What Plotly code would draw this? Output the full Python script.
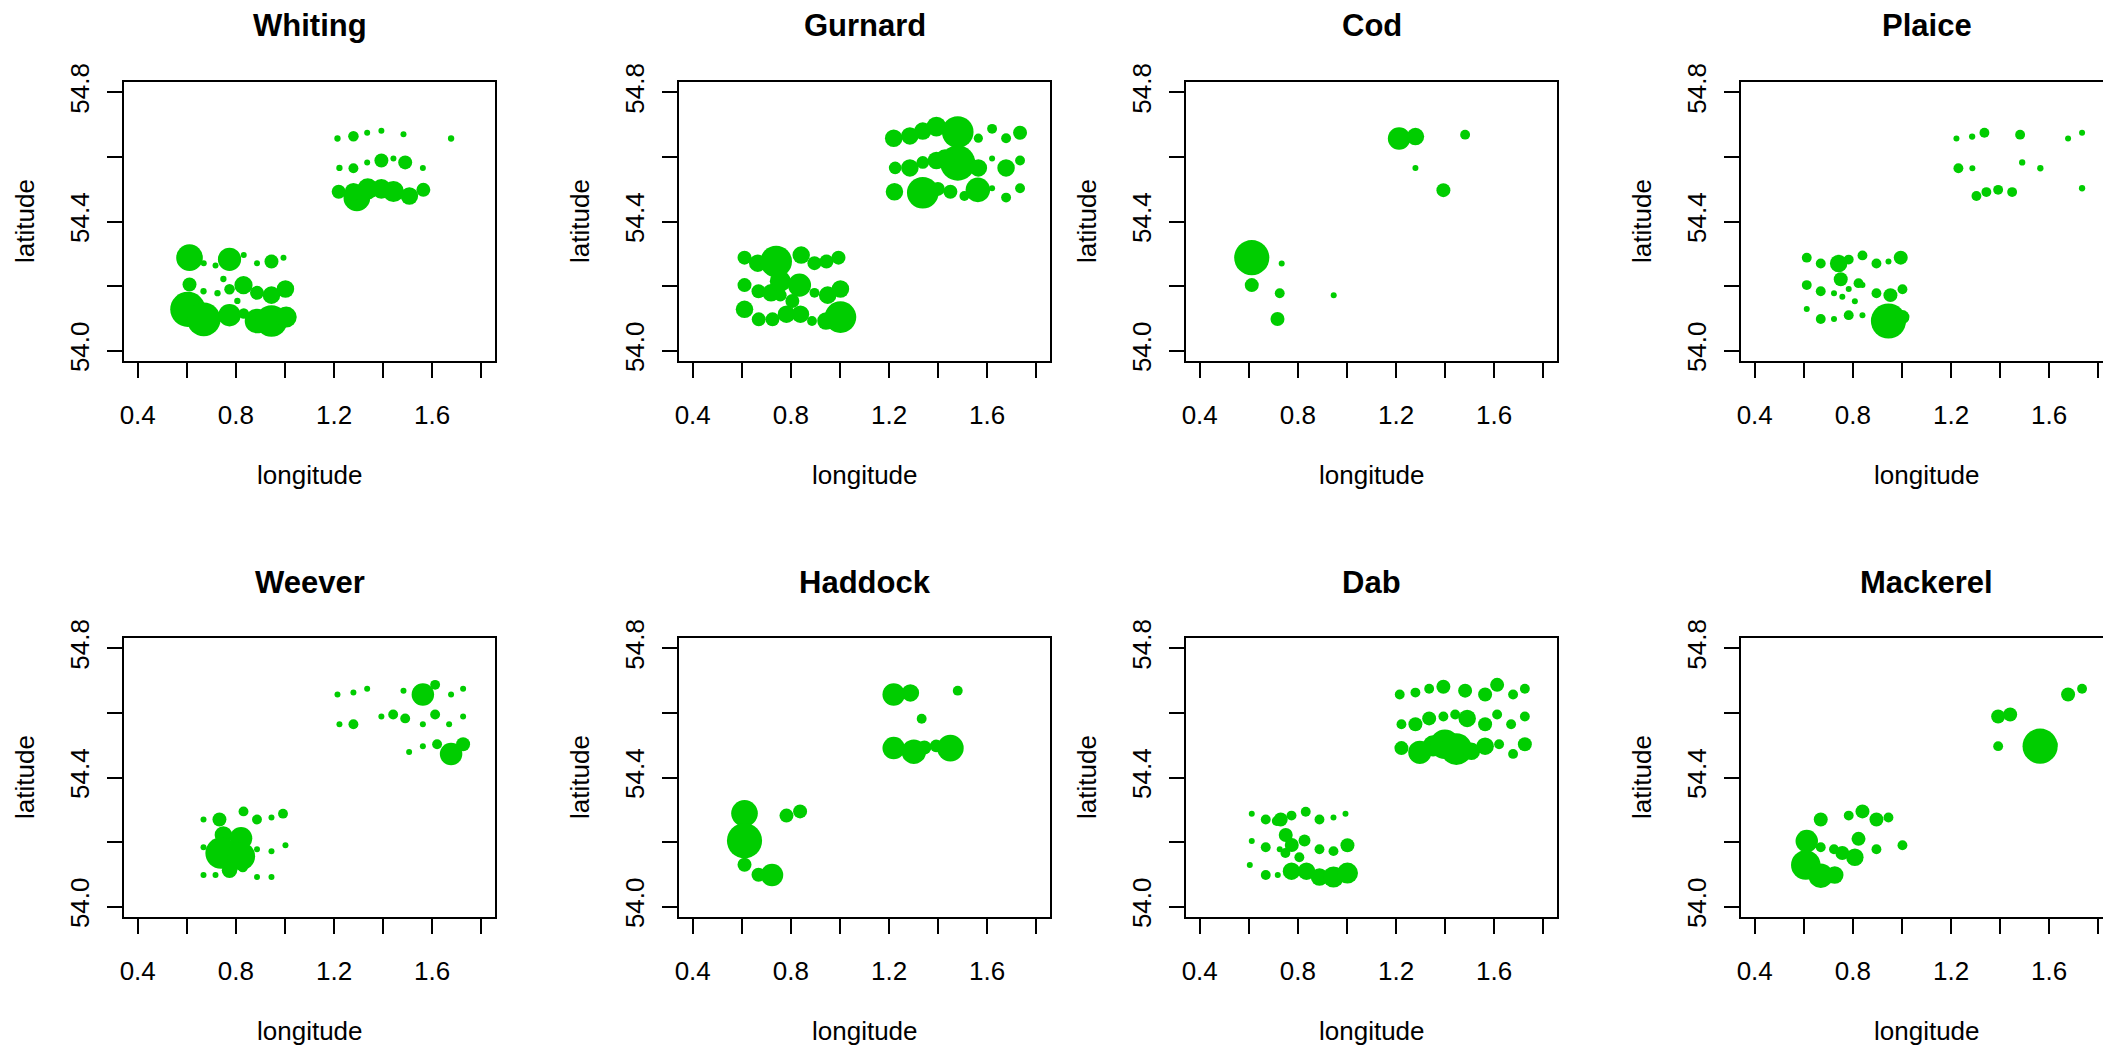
import plotly.graph_objects as go

# ---------------- data (longitude, latitude, catch) ----------------
species = ["Whiting", "Gurnard", "Cod", "Plaice", "Weever", "Haddock", "Dab", "Mackerel"]

whiting_lon = [1.214, 1.279, 1.335, 1.393, 1.483, 1.677, 1.222, 1.279, 1.335, 1.393, 1.442, 1.490, 1.562,
               1.219, 1.293, 1.3375, 1.393, 1.442, 1.507, 1.564, 1.279,
               0.611, 0.669, 0.717, 0.774, 0.832, 0.886, 0.945, 0.994,
               0.611, 0.668, 0.725, 0.749, 0.774, 0.831, 0.886, 0.945, 1.002, 0.806,
               0.604, 0.669, 0.774, 0.832, 0.886, 0.945, 1.005]
whiting_lat = [54.657, 54.664, 54.675, 54.681, 54.670, 54.657, 54.566, 54.565, 54.583, 54.589, 54.595, 54.583, 54.566,
               54.492, 54.473, 54.501, 54.501, 54.493, 54.479, 54.498, 54.492,
               54.288, 54.271, 54.264, 54.283, 54.296, 54.271, 54.276, 54.288,
               54.205, 54.184, 54.178, 54.222, 54.190, 54.203, 54.179, 54.172, 54.191, 54.154,
               54.128, 54.097, 54.110, 54.115, 54.092, 54.092, 54.104]
whiting_n = [9, 25, 7, 7, 7, 9, 9, 22, 7, 44, 7, 44, 7,
             44, 160, 100, 87, 100, 69, 44, 69,
             160, 7, 7, 121, 7, 7, 44, 7,
             44, 9, 9, 9, 25, 75, 44, 69, 69, 9,
             278, 256, 114, 25, 136, 225, 100]

gurnard_lon = [1.219, 1.285, 1.3375, 1.393, 1.480, 1.564, 1.620, 1.677, 1.734,
               1.225, 1.285, 1.3375, 1.393, 1.480, 1.4285, 1.564, 1.620, 1.677, 1.734,
               1.222, 1.3375, 1.399, 1.450, 1.507, 1.562, 1.620, 1.677, 1.734,
               0.611, 0.665, 0.740, 0.842, 0.896, 0.945, 0.994,
               0.611, 0.668, 0.719, 0.757, 0.835, 0.896, 0.950, 1.002, 0.806, 0.757,
               0.611, 0.669, 0.725, 0.782, 0.839, 0.886, 0.943, 1.002]
gurnard_lat = [54.658, 54.665, 54.680, 54.694, 54.677, 54.658, 54.687, 54.658, 54.675,
               54.566, 54.566, 54.583, 54.589, 54.581, 54.593, 54.566, 54.595, 54.566, 54.589,
               54.492, 54.489, 54.501, 54.492, 54.479, 54.498, 54.503, 54.474, 54.503,
               54.288, 54.271, 54.276, 54.296, 54.271, 54.276, 54.288,
               54.203, 54.184, 54.179, 54.215, 54.203, 54.179, 54.172, 54.191, 54.154, 54.172,
               54.128, 54.097, 54.097, 54.113, 54.113, 54.092, 54.092, 54.104]
gurnard_n = [69, 69, 69, 87, 225, 19, 22, 22, 44,
             36, 69, 36, 69, 278, 87, 69, 7, 69, 22,
             69, 225, 44, 44, 22, 136, 7, 22, 22,
             44, 69, 225, 69, 44, 44, 44,
             44, 44, 69, 100, 121, 22, 69, 69, 44, 36,
             69, 44, 44, 69, 69, 22, 69, 225]

cod_lon = [1.2125, 1.279, 1.4815, 1.279, 1.393, 0.612, 0.612, 0.734, 0.726, 0.717, 0.946]
cod_lat = [54.657, 54.663, 54.669, 54.566, 54.497, 54.288, 54.203, 54.270, 54.178, 54.098, 54.172]
cod_n = [114, 69, 22, 7, 44, 278, 44, 7, 22, 44, 7]

plaice_lon = [1.222, 1.286, 1.336, 1.4815, 1.677, 1.734, 1.230, 1.287, 1.490, 1.564, 1.734,
              1.3035, 1.344, 1.392, 1.449,
              0.612, 0.669, 0.742, 0.783, 0.839, 0.896, 0.945, 0.995,
              0.612, 0.669, 0.723, 0.7505, 0.783, 0.757, 0.823, 0.839, 0.896, 0.953, 1.002, 0.808,
              0.612, 0.669, 0.723, 0.783, 0.839, 0.945, 1.002]
plaice_lat = [54.657, 54.663, 54.675, 54.669, 54.657, 54.675, 54.565, 54.565, 54.583, 54.565, 54.503,
              54.479, 54.491, 54.498, 54.491,
              54.288, 54.270, 54.270, 54.282, 54.295, 54.270, 54.276, 54.288,
              54.203, 54.184, 54.178, 54.221, 54.191, 54.167, 54.209, 54.203, 54.178, 54.172, 54.190, 54.153,
              54.129, 54.098, 54.098, 54.110, 54.110, 54.092, 54.104]
plaice_n = [7, 9, 22, 22, 7, 7, 22, 7, 9, 9, 9,
            22, 22, 22, 22,
            22, 22, 69, 22, 22, 22, 7, 44,
            22, 22, 7, 44, 7, 7, 22, 7, 22, 44, 22, 7,
            7, 22, 7, 22, 7, 278, 44]

weever_lon = [1.214, 1.279, 1.335, 1.483, 1.562, 1.612, 1.677, 1.726,
              1.222, 1.279, 1.393, 1.441, 1.490, 1.612, 1.562, 1.669, 1.726,
              1.506, 1.562, 1.620, 1.677, 1.726,
              0.668, 0.733, 0.831, 0.886, 0.945, 0.992,
              0.668, 0.749, 0.821, 0.740, 0.821, 0.774, 0.828, 0.886, 0.945, 1.002,
              0.668, 0.717, 0.886, 0.945]
weever_lat = [54.657, 54.663, 54.675, 54.669, 54.657, 54.687, 54.657, 54.675,
              54.565, 54.565, 54.589, 54.595, 54.583, 54.595, 54.565, 54.565, 54.589,
              54.479, 54.497, 54.503, 54.473, 54.503,
              54.270, 54.270, 54.295, 54.270, 54.276, 54.288,
              54.184, 54.222, 54.212, 54.166, 54.156, 54.113, 54.123, 54.178, 54.172, 54.190,
              54.098, 54.098, 54.092, 54.092]
weever_n = [7, 7, 7, 7, 114, 22, 7, 7,
            7, 22, 7, 22, 22, 22, 7, 7, 7,
            7, 7, 22, 114, 44,
            7, 44, 22, 22, 7, 22,
            7, 69, 114, 225, 178, 54, 25, 7, 7, 7,
            7, 7, 7, 7]

haddock_lon = [1.219, 1.287, 1.480, 1.333, 1.219, 1.301, 1.344, 1.392, 1.450,
               0.611, 0.611, 0.611, 0.668, 0.723, 0.782, 0.8375]
haddock_lat = [54.657, 54.662, 54.669, 54.582, 54.491, 54.480, 54.493, 54.498, 54.491,
               54.289, 54.204, 54.130, 54.099, 54.098, 54.282, 54.295]
haddock_n = [114, 69, 22, 22, 114, 136, 44, 36, 160,
             160, 278, 44, 44, 114, 44, 44]

dab_lon = [1.215, 1.279, 1.335, 1.393, 1.4815, 1.563, 1.612, 1.677, 1.725,
           1.222, 1.279, 1.335, 1.393, 1.441, 1.490, 1.563, 1.612, 1.669, 1.725,
           1.222, 1.297, 1.351, 1.399, 1.446, 1.507, 1.563, 1.620, 1.677, 1.725,
           0.612, 0.669, 0.730, 0.714, 0.774, 0.832, 0.888, 0.945, 0.994,
           0.612, 0.669, 0.726, 0.7505, 0.775, 0.749, 0.827, 0.888, 0.945, 1.002, 0.806,
           0.604, 0.669, 0.718, 0.774, 0.835, 0.888, 0.945, 1.002]
dab_lat = [54.657, 54.663, 54.675, 54.681, 54.669, 54.657, 54.687, 54.657, 54.675,
           54.565, 54.565, 54.583, 54.589, 54.595, 54.583, 54.565, 54.595, 54.565, 54.589,
           54.491, 54.478, 54.498, 54.503, 54.488, 54.481, 54.497, 54.503, 54.473, 54.503,
           54.288, 54.270, 54.270, 54.265, 54.282, 54.294, 54.270, 54.276, 54.288,
           54.203, 54.184, 54.178, 54.222, 54.191, 54.166, 54.205, 54.178, 54.172, 54.190, 54.153,
           54.129, 54.098, 54.098, 54.110, 54.110, 54.092, 54.092, 54.104]
dab_n = [22, 22, 22, 44, 44, 44, 44, 22, 22,
         22, 44, 44, 22, 22, 69, 44, 22, 22, 22,
         44, 121, 100, 196, 225, 69, 69, 22, 22, 44,
         7, 22, 44, 22, 22, 22, 22, 7, 7,
         7, 22, 7, 44, 44, 22, 32, 22, 22, 44, 22,
         7, 22, 7, 69, 69, 69, 100, 100]

mackerel_lon = [1.677, 1.734, 1.392, 1.441, 1.392, 1.563, 1.620,
                0.669, 0.783, 0.839, 0.896, 0.945,
                0.612, 0.669, 0.723, 0.757, 0.808, 0.823, 0.896, 1.002,
                0.608, 0.669, 0.726]
mackerel_lat = [54.657, 54.675, 54.589, 54.595, 54.497, 54.497, 54.503,
                54.270, 54.282, 54.295, 54.270, 54.276,
                54.203, 54.184, 54.178, 54.166, 54.153, 54.210, 54.178, 54.190,
                54.129, 54.096, 54.098]
mackerel_n = [44, 22, 44, 44, 22, 278, 11,
              44, 22, 44, 44, 22,
              114, 22, 22, 44, 69, 44, 22, 22,
              196, 136, 69]

series = {
    "Whiting": (whiting_lon, whiting_lat, whiting_n),
    "Gurnard": (gurnard_lon, gurnard_lat, gurnard_n),
    "Cod": (cod_lon, cod_lat, cod_n),
    "Plaice": (plaice_lon, plaice_lat, plaice_n),
    "Weever": (weever_lon, weever_lat, weever_n),
    "Haddock": (haddock_lon, haddock_lat, haddock_n),
    "Dab": (dab_lon, dab_lat, dab_n),
    "Mackerel": (mackerel_lon, mackerel_lat, mackerel_n),
}

x_ticks = [0.4, 0.6, 0.8, 1.0, 1.2, 1.4, 1.6, 1.8]
x_ticktext = ["0.4", "", "0.8", "", "1.2", "", "1.6", ""]
y_ticks = [54.0, 54.2, 54.4, 54.6, 54.8]
y_ticktext = ["54.0", "", "54.4", "", "54.8"]

# ---------------- layout ----------------
# the page body adds an 8 px offset, so figure pixels = screen pixels - 8
W, H = 2111, 1047
FONT = "Liberation Sans, Arial, Helvetica, sans-serif"
GREEN = "#00CD00"
col_px = [(116, 487), (671, 1042), (1178, 1549), (1733, 2104)]
row_px = [(74, 353), (630, 909)]
XR = (0.344, 1.856)
YR = (53.968, 54.832)

fig = go.Figure()
annotations = []
layout = dict(
    width=W, height=H, autosize=False,
    margin=dict(l=0, r=0, t=0, b=0, pad=0, autoexpand=False),
    paper_bgcolor="white", plot_bgcolor="white",
    showlegend=False,
    font=dict(family=FONT, size=26, color="black"),
)

for i, sp in enumerate(species):
    r, c = divmod(i, 4)
    x0, x1 = col_px[c]
    y0, y1 = row_px[r]
    n = i + 1
    xs = "" if n == 1 else str(n)
    x1c = min(x1, W)
    xmax = XR[0] + (x1c - x0) / (x1 - x0) * (XR[1] - XR[0])
    lon, lat, cnt = series[sp]
    fig.add_trace(go.Scatter(
        x=lon, y=lat, mode="markers",
        xaxis="x" + xs, yaxis="y" + xs,
        marker=dict(size=cnt, sizemode="area", sizeref=0.45, sizemin=3,
                    color=GREEN, opacity=1, line=dict(width=0)),
        opacity=1,
        hoverinfo="skip",
    ))
    common = dict(showgrid=False, zeroline=False, showline=True, mirror=True,
                  linecolor="black", linewidth=2, ticks="outside", ticklen=15,
                  tickwidth=2, tickcolor="black", automargin=False,
                  tickfont=dict(family=FONT, size=26, color="black"))
    layout["xaxis" + xs] = dict(common, domain=[x0 / W, x1c / W], range=[XR[0], xmax],
                                anchor="y" + xs, tickvals=x_ticks, ticktext=x_ticktext,
                                ticklabelstandoff=15)
    layout["yaxis" + xs] = dict(common, domain=[1 - y1 / H, 1 - y0 / H], range=list(YR),
                                anchor="x" + xs, tickvals=y_ticks, ticktext=y_ticktext,
                                tickangle=-90, ticklabelstandoff=8)
    cx = (x0 + x1) / 2
    annotations.append(dict(text="<b>%s</b>" % sp, x=cx / W, y=1 - (y0 - 56) / H,
                            xref="paper", yref="paper", showarrow=False,
                            xanchor="center", yanchor="middle",
                            font=dict(family=FONT, size=31, color="black")))
    annotations.append(dict(text="longitude", x=cx / W, y=1 - (y1 + 114) / H,
                            xref="paper", yref="paper", showarrow=False,
                            xanchor="center", yanchor="middle",
                            font=dict(family=FONT, size=26, color="black")))
    annotations.append(dict(text="latitude", x=(x0 - 99.5) / W, y=1 - ((y0 + y1) / 2) / H,
                            xref="paper", yref="paper", showarrow=False, textangle=-90,
                            xanchor="center", yanchor="middle",
                            font=dict(family=FONT, size=26, color="black")))

layout["annotations"] = annotations
fig.update_layout(**layout)
fig.write_html("out.html")
